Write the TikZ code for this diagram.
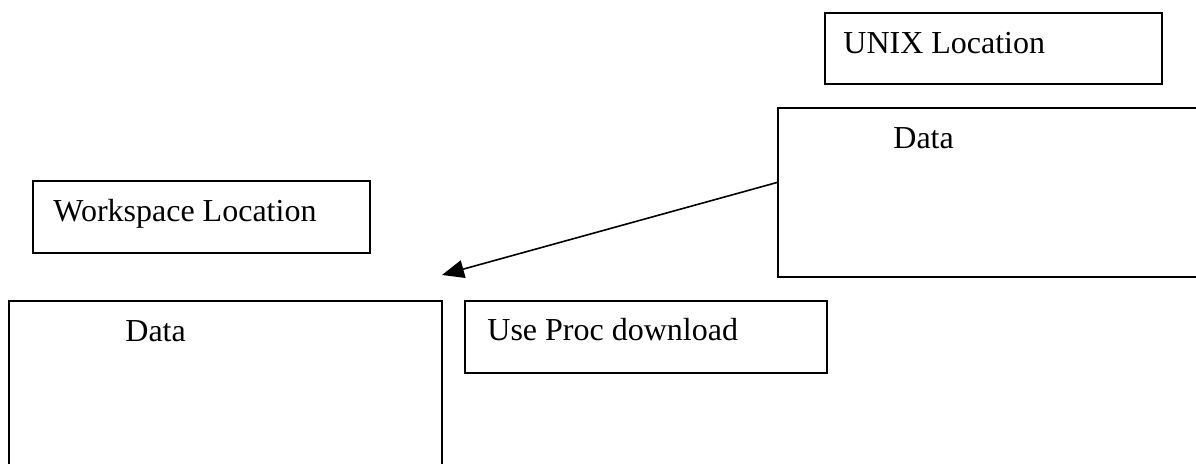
\documentclass[tikz,border=0pt]{standalone}
\usepackage{fontspec}
\setmainfont{Liberation Serif}
\usetikzlibrary{arrows.meta,positioning,calc}

\begin{document}
\begin{tikzpicture}[
    x=0.5pt, y=-0.5pt,
    box/.style={draw, line width=1pt, inner sep=0pt, anchor=north west},
    smallbox/.style={box, minimum width=168.5pt, minimum height=36pt},
    databox/.style={box, minimum width=216.5pt, minimum height=84.5pt},
    txt/.style={anchor=base west, inner sep=0pt, font=\fontsize{16}{19}\selectfont},
    arrow/.style={-{Triangle[length=11pt,width=9pt]}, line width=0.8pt}
]
\useasboundingbox (0,0) rectangle (1196,464);
\clip (0,0) rectangle (1196,464);
% UNIX side
\node[smallbox, minimum height=35.5pt] (unix) at (824,12) {};
\node[databox] (rdata) at (777,107) {};
% workspace side
\node[smallbox] (wspace) at (32,180) {};
\node[databox, minimum height=90pt] (ldata) at (8,300) {};
\node[box, minimum width=181pt, minimum height=36pt] (proc) at (464,300) {};
% labels
\node[txt] (unixtxt) at ([shift={(19,42)}]unix.north west) {UNIX Location};
\node[txt] (rdatatxt) at ([shift={(116,42)}]rdata.north west) {Data};
\node[txt] (wspacetxt) at ([shift={(21,42)}]wspace.north west) {Workspace Location};
\node[txt] (ldatatxt) at ([shift={(117,42)}]ldata.north west) {Data};
\node[txt] (proctxt) at ([shift={(23,41)}]proc.north west) {Use Proc download};
% download arrow
\coordinate (drop) at (442,275);
\draw[arrow] ([yshift=5pt]rdata.west) -- (drop);
\end{tikzpicture}
\end{document}
